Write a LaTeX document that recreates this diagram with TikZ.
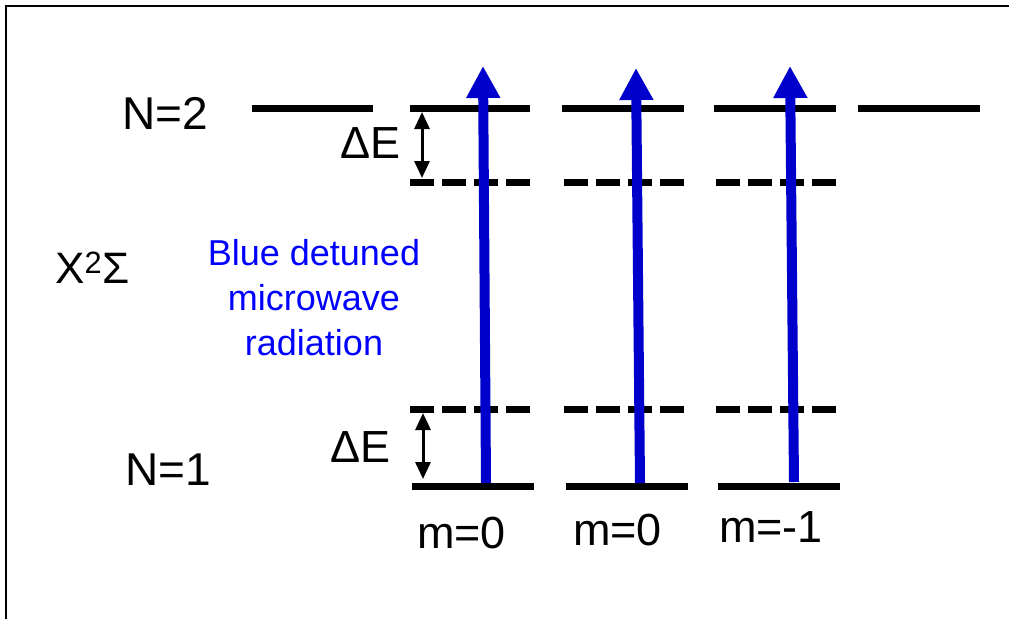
\documentclass[tikz,border=0pt]{standalone}
\usepackage{fontspec}
\setmainfont{Liberation Sans}
\usetikzlibrary{arrows.meta}
\definecolor{arrowblue}{RGB}{0,0,204}
\definecolor{textblue}{RGB}{0,0,255}
\begin{document}
\begin{tikzpicture}[x=1pt,y=-1pt,
  level/.style={line width=7pt,black},
  dlevel/.style={line width=7pt,black,dash pattern=on 24pt off 8pt},
  lbl/.style={inner sep=0pt,anchor=base west,font=\fontsize{45}{54}\selectfont},
  bluetxt/.style={inner sep=0pt,anchor=base,text=textblue,font=\fontsize{36}{45}\selectfont},
  transition/.style={line width=10pt,arrowblue,-{Triangle[width=32pt,length=32pt]}},
  gap/.style={line width=3pt,black,{Triangle[width=15pt,length=17pt]}-{Triangle[width=15pt,length=17pt]}}]
\useasboundingbox (0,0) rectangle (1009,619);
% frame
\draw[line width=2pt] (6,619) -- (6,6) -- (1009,6);
% N=2 levels
\draw[level] (252,108) -- (373,108);
\draw[level] (410,108) -- (530,108);
\draw[level] (562,108) -- (684,108);
\draw[level] (714,108) -- (836,108);
\draw[level] (858,108) -- (980,108);
% shifted N=2 levels
\draw[dlevel] (410,182) -- (530,182);
\draw[dlevel] (564,182) -- (684,182);
\draw[dlevel] (716,182) -- (836,182);
% shifted N=1 levels
\draw[dlevel] (410,409) -- (530,409);
\draw[dlevel] (564,409) -- (684,409);
\draw[dlevel] (716,409) -- (836,409);
% N=1 levels
\draw[level] (412,486.5) -- (534,486.5);
\draw[level] (566,486.5) -- (688,486.5);
\draw[level] (718,486.5) -- (840,486.5);
% transition arrows
\coordinate (a1s) at (486,483); \coordinate (a1e) at (483,66);
\coordinate (a2s) at (640,483); \coordinate (a2e) at (636,68);
\coordinate (a3s) at (794,482); \coordinate (a3e) at (790,66);
\draw[transition] (a1s) -- (a1e);
\draw[transition] (a2s) -- (a2e);
\draw[transition] (a3s) -- (a3e);
% Delta E arrows
\coordinate (g1t) at (422,112); \coordinate (g1b) at (422,178);
\coordinate (g2t) at (423,413); \coordinate (g2b) at (423,479);
\draw[gap] (g1t) -- (g1b);
\draw[gap] (g2t) -- (g2b);
% labels
\node[lbl,anchor=base,font=\fontsize{46}{54}\selectfont] (n2) at (165,129) {N=2};
\node[lbl,anchor=base,font=\fontsize{46}{54}\selectfont] (n1) at (168,485) {N=1};
\node[lbl,font=\fontsize{44}{54}\selectfont] (xs) at (55,283) {X\textsuperscript{2}Σ};
\node[lbl] (de1) at (340,158) {ΔE};
\node[lbl] (de2) at (330,462) {ΔE};
\node[lbl] (m1) at (417,548) {m=0};
\node[lbl] (m2) at (573,545) {m=0};
\node[lbl] (m3) at (719,542) {m=-1};
\node[bluetxt] (b1) at (314,265) {Blue detuned};
\node[bluetxt] (b2) at (314,310) {microwave};
\node[bluetxt] (b3) at (314,355) {radiation};
\end{tikzpicture}
\end{document}
